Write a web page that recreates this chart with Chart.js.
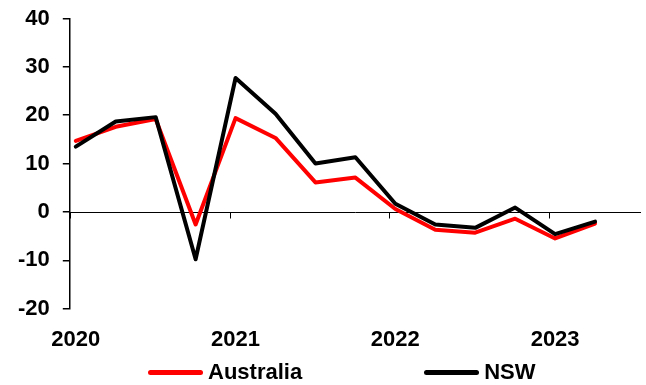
<!DOCTYPE html>
<html>
<head>
<meta charset="utf-8">
<script src="https://cdn.jsdelivr.net/npm/chart.js@4.4.0/dist/chart.umd.min.js"></script>
<style>
  html, body { margin: 0; padding: 0; background: #fff; }
  #wrap { position: relative; width: 646px; height: 385px; }
  #legend {
    position: absolute; left: 148px; top: 359px;
    display: flex; gap: 122px;
    font: bold 22px 'Liberation Sans', Arial, sans-serif; line-height: 26px; color: #000;
  }
  .item { display: flex; align-items: center; }
  .swatch { width: 55px; height: 5px; border-radius: 3px; margin-right: 5px; }
</style>
</head>
<body>
<div id="wrap">
  <canvas id="chart" width="646" height="385"></canvas>
  <div id="legend"></div>
</div>
<script>
// quarterly values, 2020 Q1 .. 2023 Q2
const quarters = ['2020Q1', '2020Q2', '2020Q3', '2020Q4', '2021Q1', '2021Q2', '2021Q3', '2021Q4',
  '2022Q1', '2022Q2', '2022Q3', '2022Q4', '2023Q1', '2023Q2'];
const australia = [14.7, 17.6, 19.2, -2.6, 19.4, 15.3, 6.1, 7.1, 0.6, -3.7, -4.3, -1.4, -5.5, -2.4];
const nsw = [13.5, 18.7, 19.6, -9.8, 27.7, 20.3, 10.0, 11.3, 1.7, -2.6, -3.3, 0.9, -4.6, -2.0];
const years = ['2020', '2021', '2022', '2023'];
const yTicks = [-20, -10, 0, 10, 20, 30, 40];

const xMin = -0.15;
const xMax = 14.15;
const font = { family: "'Liberation Sans', Arial, sans-serif", size: 22, weight: 'bold' };

// zero line with year tick marks, like the category axis crossing at 0
const zeroAxis = {
  id: 'zeroAxis',
  beforeDatasetsDraw(chart) {
    const { ctx, chartArea, scales } = chart;
    const y0 = Math.round(scales.y.getPixelForValue(0)) + 0.5;
    ctx.save();
    ctx.strokeStyle = '#000';
    ctx.lineWidth = 1;
    ctx.beginPath();
    ctx.moveTo(chartArea.left, y0);
    ctx.lineTo(chartArea.right, y0);
    scales.x.ticks.forEach(t => {
      const x = Math.round(scales.x.getPixelForValue(t.value + xMin)) + 0.5;
      ctx.moveTo(x, y0);
      ctx.lineTo(x, y0 + 6);
    });
    ctx.stroke();
    ctx.restore();
  }
};

const series = [
  { label: 'Australia', values: australia, color: '#ff0000', order: 1 },
  { label: 'NSW', values: nsw, color: '#000000', order: 0 }
];

new Chart(document.getElementById('chart'), {
  type: 'line',
  data: {
    datasets: series.map(s => ({
      label: s.label,
      data: s.values.map((v, i) => ({ x: i, y: v })),
      borderColor: s.color,
      backgroundColor: s.color,
      borderWidth: 4,
      pointRadius: 0,
      tension: 0,
      borderJoinStyle: 'round',
      borderCapStyle: 'round',
      order: s.order
    }))
  },
  options: {
    responsive: false,
    animation: false,
    layout: { padding: { left: 5, right: 5, top: 2, bottom: 22 } },
    plugins: {
      legend: { display: false },
      tooltip: { enabled: false }
    },
    scales: {
      x: {
        type: 'linear',
        min: xMin,
        max: xMax,
        grid: { display: false },
        border: { display: false },
        ticks: {
          stepSize: 4,
          includeBounds: false,
          autoSkip: false,
          maxRotation: 0,
          padding: 10,
          color: '#000',
          font: font,
          callback: v => years[v / 4] ?? ''
        }
      },
      y: {
        min: yTicks[0],
        max: yTicks[yTicks.length - 1],
        grid: { drawOnChartArea: false, drawTicks: true, tickLength: 7, color: '#000', lineWidth: 1.5 },
        border: { color: '#000', width: 1.5 },
        ticks: { stepSize: 10, padding: 13, color: '#000', font: { ...font, lineHeight: 0.5 } }
      }
    }
  },
  plugins: [zeroAxis]
});

// legend
const legend = document.getElementById('legend');
series.forEach(s => {
  const item = document.createElement('div');
  item.className = 'item';
  const sw = document.createElement('span');
  sw.className = 'swatch';
  sw.style.background = s.color;
  const txt = document.createElement('span');
  txt.textContent = s.label;
  item.appendChild(sw);
  item.appendChild(txt);
  legend.appendChild(item);
});
</script>
</body>
</html>
